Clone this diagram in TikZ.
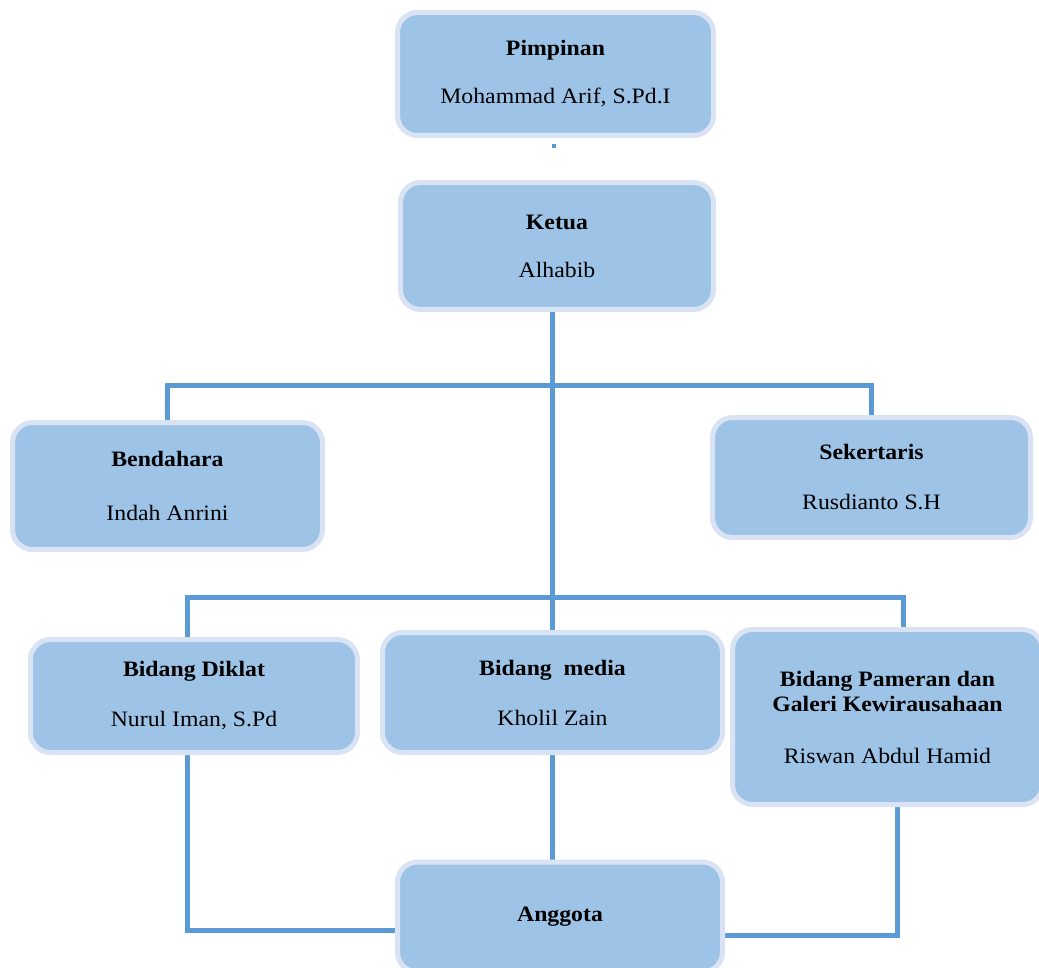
\documentclass[tikz,border=0pt]{standalone}
\usepackage{fontspec}
\setmainfont{Liberation Serif}[FakeStretch=1.08]
\usetikzlibrary{backgrounds}
\definecolor{boxfill}{HTML}{9DC3E6}
\definecolor{boxedge}{HTML}{DAE3F3}
\definecolor{linec}{HTML}{5B9BD5}
\tikzset{
  box/.style={draw=boxedge, line width=5pt, fill=boxfill, rounded corners=20pt,
    inner sep=0pt, align=center, font=\fontsize{22}{26}\selectfont},
  conn/.style={draw=linec, line width=5pt}
}
\begin{document}
\begin{tikzpicture}[x=1pt,y=-1pt]
\useasboundingbox (0,0) rectangle (1039,968);
\node[box, minimum width=316pt, minimum height=123pt] (pimp) at (555.5,74) {\textbf{Pimpinan}\\[22pt]Mohammad Arif, S.Pd.I};
\node[box, minimum width=313pt, minimum height=127pt] (ketua) at (557,246) {\textbf{Ketua}\\[22pt]Alhabib};
\node[box, minimum width=310pt, minimum height=127pt] (bend) at (167.5,486) {\textbf{Bendahara}\\[28pt]Indah Anrini};
\node[box, minimum width=318pt, minimum height=120pt] (sek) at (871.5,477.5) {\textbf{Sekertaris}\\[24pt]Rusdianto S.H};
\node[box, minimum width=327pt, minimum height=113pt] (diklat) at (194,696) {\textbf{Bidang Diklat}\\[24pt]Nurul Iman, S.Pd};
\node[box, minimum width=340pt, minimum height=120pt] (media) at (552.5,692.5) {\textbf{Bidang\ \ media}\\[24pt]Kholil Zain};
\node[box, minimum width=310pt, minimum height=175pt] (pameran) at (887.5,717) {\textbf{Bidang Pameran dan}\\[-1pt]\textbf{Galeri Kewirausahaan}\\[26pt]Riswan Abdul Hamid};
\node[box, minimum width=325pt, minimum height=110pt] (anggota) at (560,917) {\textbf{Anggota}};
\coordinate (b1) at (187,597);
\coordinate (b2) at (903,597);
\coordinate (c1) at (187,930);
\coordinate (c2) at (897,935);
\begin{scope}[on background layer]
\draw[conn] (ketua.south -| media.north) -- (media.north);
\draw[conn] (bend.north) -- (bend.north |- 0,385) -- (sek.north |- 0,385) -- (sek.north);
\draw[conn] (b1 |- diklat.north) -- (b1) -- (b2) -- (b2 |- pameran.north);
\draw[conn] (c1 |- diklat.south) -- (c1) -- (c1 -| anggota.west);
\draw[conn] (media.south) -- (media.south |- anggota.north);
\draw[conn] (c2 |- pameran.south) -- (c2) -- (c2 -| anggota.east);
\end{scope}
\fill[linec] (552,144) rectangle (556,148);
\end{tikzpicture}
\end{document}
